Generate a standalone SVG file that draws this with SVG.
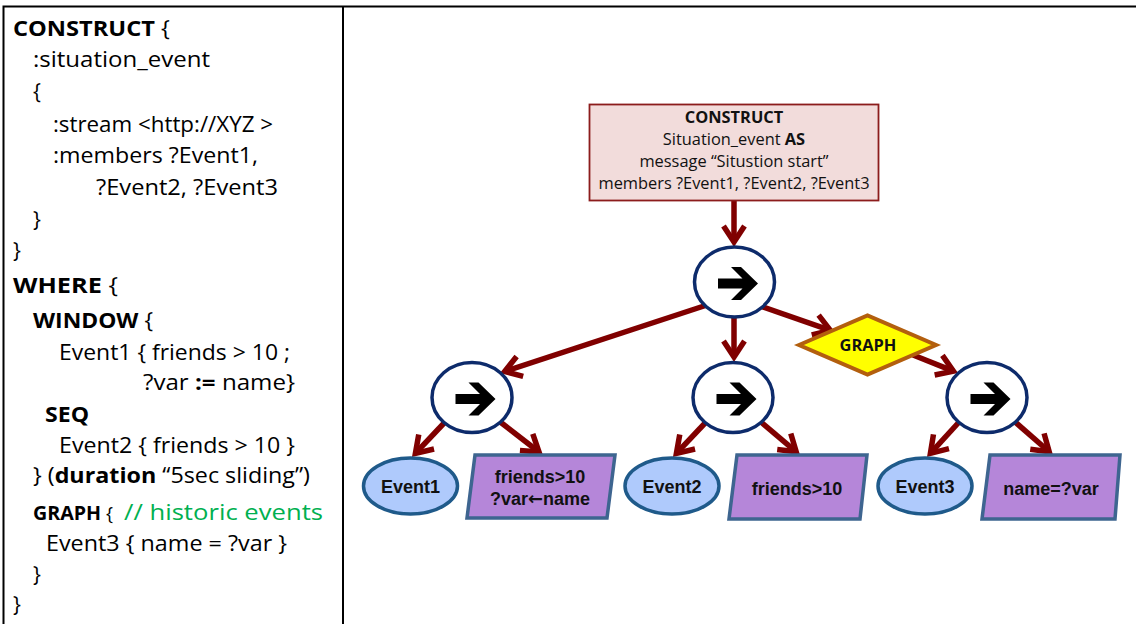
<svg xmlns="http://www.w3.org/2000/svg" xmlns:xlink="http://www.w3.org/1999/xlink" width="1136" height="624" viewBox="0 0 1136 624">
  <style>
    .code { font-family: "Open Sans", "Liberation Sans", sans-serif; font-size: 21px; fill: #000; }
    .b { font-weight: bold; }
    .cmt { fill: #00b050; }
    .rule { stroke: #000; stroke-width: 2; fill: none; }
    .box { fill: #f2dcdb; stroke: #8c1c1c; stroke-width: 1.8; }
    .boxtxt { font-family: "Open Sans", "Liberation Sans", sans-serif; font-size: 16.4px; fill: #111; text-anchor: middle; }
    .op { fill: #fff; stroke: #0d2b6b; stroke-width: 3.5; }
    .ev { fill: #afcafc; stroke: #1f5a8a; stroke-width: 3.5; }
    .cond { fill: #b586d9; stroke: #3e6590; stroke-width: 3.5; }
    .graph { fill: #ffff00; stroke: #b35f0e; stroke-width: 4; }
    .lbl { font-family: "Liberation Sans", Arial, sans-serif; font-weight: bold; font-size: 18px; fill: #111; text-anchor: middle; }
    .arr { font-family: "DejaVu Sans", sans-serif; font-weight: bold; }
    .glbl { font-family: "Open Sans", "Liberation Sans", sans-serif; font-weight: bold; font-size: 16.4px; fill: #111; text-anchor: middle; }
    .edge { stroke: #800000; stroke-width: 5.5; fill: none; marker-end: url(#head); }
  </style>
  <defs>
    <marker id="head" markerUnits="userSpaceOnUse" markerWidth="30" markerHeight="30" refX="0" refY="0" viewBox="-20 -15 30 30" orient="auto" overflow="visible">
      <path d="M-16,-10.5 L0,0 L-16,10.5" fill="none" stroke="#800000" stroke-width="5.5" stroke-linejoin="miter" stroke-miterlimit="10"/>
    </marker>
    <!-- heavy right arrow icon drawn inside each sequence operator -->
    <path id="go" d="M-17,-5 H7.5 L-4,-16.5 H6 L23,0 L6,16.5 H-4 L7.5,5 H-17 Z" fill="#000"/>
  </defs>

  <!-- table rules -->
  <g id="table">
    <path class="rule" d="M2.5,6.5 H1136 M3.5,6 V624 M343,6 V624"/>
  </g>

  <!-- query text -->
  <g id="query" class="code">
    <text x="13" y="36" textLength="157" lengthAdjust="spacingAndGlyphs"><tspan class="b">CONSTRUCT</tspan> {</text>
    <text x="33" y="67" textLength="177" lengthAdjust="spacingAndGlyphs">:situation_event</text>
    <text x="33" y="99">{</text>
    <text x="53" y="132" textLength="220" lengthAdjust="spacingAndGlyphs">:stream &lt;http://XYZ &gt;</text>
    <text x="53" y="163" textLength="205" lengthAdjust="spacingAndGlyphs">:members ?Event1,</text>
    <text x="96" y="195" textLength="182" lengthAdjust="spacingAndGlyphs">?Event2, ?Event3</text>
    <text x="33" y="227">}</text>
    <text x="13" y="258">}</text>
    <text x="13" y="293" textLength="105" lengthAdjust="spacingAndGlyphs"><tspan class="b">WHERE</tspan> {</text>
    <text x="33" y="328" textLength="120" lengthAdjust="spacingAndGlyphs"><tspan class="b">WINDOW</tspan> {</text>
    <text x="59" y="360" textLength="231" lengthAdjust="spacingAndGlyphs">Event1 { friends &gt; 10 ;</text>
    <text x="143" y="390" textLength="152" lengthAdjust="spacingAndGlyphs">?var <tspan class="b">:=</tspan> name}</text>
    <text x="45" y="422" class="b" textLength="44" lengthAdjust="spacingAndGlyphs">SEQ</text>
    <text x="59" y="453" textLength="236" lengthAdjust="spacingAndGlyphs">Event2 { friends &gt; 10 }</text>
    <text x="33" y="483" textLength="277" lengthAdjust="spacingAndGlyphs">} (<tspan class="b">duration</tspan> “5sec sliding”)</text>
    <text x="33" y="520" font-size="19" textLength="80" lengthAdjust="spacingAndGlyphs"><tspan class="b" font-size="20">GRAPH</tspan> {</text>
    <text x="124" y="520" class="cmt" textLength="199" lengthAdjust="spacingAndGlyphs">// historic events</text>
    <text x="46" y="551" textLength="241" lengthAdjust="spacingAndGlyphs">Event3 { name = ?var }</text>
    <text x="33" y="582">}</text>
    <text x="13" y="612">}</text>
  </g>

  <!-- connectors -->
  <g id="connectors">
    <line class="edge" x1="734" y1="201" x2="734" y2="242"/>
    <line class="edge" x1="707" y1="305" x2="504.7" y2="371.4"/>
    <line class="edge" x1="734" y1="317" x2="734" y2="357"/>
    <line class="edge" x1="760" y1="306" x2="830.3" y2="330.3"/>
    <line class="edge" x1="913" y1="355" x2="953.4" y2="371.1"/>
    <line class="edge" x1="446" y1="421" x2="415.4" y2="453.4"/>
    <line class="edge" x1="499" y1="421" x2="539" y2="452"/>
    <line class="edge" x1="707" y1="421" x2="676.4" y2="453.4"/>
    <line class="edge" x1="761" y1="422" x2="796.2" y2="451.8"/>
    <line class="edge" x1="960" y1="421" x2="930.4" y2="453.3"/>
    <line class="edge" x1="1014" y1="421" x2="1049.2" y2="451.8"/>
  </g>

  <g id="construct">
    <rect class="box" x="589.5" y="104.5" width="289" height="96"/>
    <text class="boxtxt" x="734" y="123" font-weight="bold">CONSTRUCT</text>
    <text class="boxtxt" x="734" y="145">Situation_event <tspan font-weight="bold">AS</tspan></text>
    <text class="boxtxt" x="734" y="167">message “Situstion start”</text>
    <text class="boxtxt" x="734" y="189">members ?Event1, ?Event2, ?Event3</text>
  </g>

  <g id="seq-root">
    <ellipse class="op" cx="734.5" cy="282" rx="40" ry="35"/>
    <use xlink:href="#go" href="#go" transform="translate(735,283.5)"/>
  </g>

  <g id="graph">
    <polygon class="graph" points="799,345 867.5,315.5 936,345 867.5,374.5"/>
    <text class="glbl" x="868" y="351">GRAPH</text>
  </g>

  <g id="seq-left">
    <ellipse class="op" cx="472" cy="397.5" rx="40" ry="35"/>
    <use xlink:href="#go" href="#go" transform="translate(472.5,399)"/>
  </g>

  <g id="seq-mid">
    <ellipse class="op" cx="733" cy="397.5" rx="40" ry="35"/>
    <use xlink:href="#go" href="#go" transform="translate(733.5,399)"/>
  </g>

  <g id="seq-right">
    <ellipse class="op" cx="987" cy="397.5" rx="40" ry="35"/>
    <use xlink:href="#go" href="#go" transform="translate(987.5,399)"/>
  </g>

  <g id="event1">
    <ellipse class="ev" cx="410.5" cy="486" rx="47" ry="28"/>
    <text class="lbl" x="410.5" y="493">Event1</text>
  </g>

  <g id="cond1">
    <polygon class="cond" points="475,455 615,455 607,518 467,518"/>
    <text class="lbl" x="540" y="483">friends&gt;10</text>
    <text class="lbl" x="540" y="505">?var<tspan class="arr">←</tspan>name</text>
  </g>

  <g id="event2">
    <ellipse class="ev" cx="672" cy="486" rx="47" ry="28"/>
    <text class="lbl" x="672" y="493">Event2</text>
  </g>

  <g id="cond2">
    <polygon class="cond" points="737,455 867,455 860,519 729,519"/>
    <text class="lbl" x="797" y="495">friends&gt;10</text>
  </g>

  <g id="event3">
    <ellipse class="ev" cx="925" cy="486" rx="47" ry="28"/>
    <text class="lbl" x="925" y="493">Event3</text>
  </g>

  <g id="cond3">
    <polygon class="cond" points="990,455 1120,455 1115,519 982,519"/>
    <text class="lbl" x="1051" y="495">name=?var</text>
  </g>
</svg>
